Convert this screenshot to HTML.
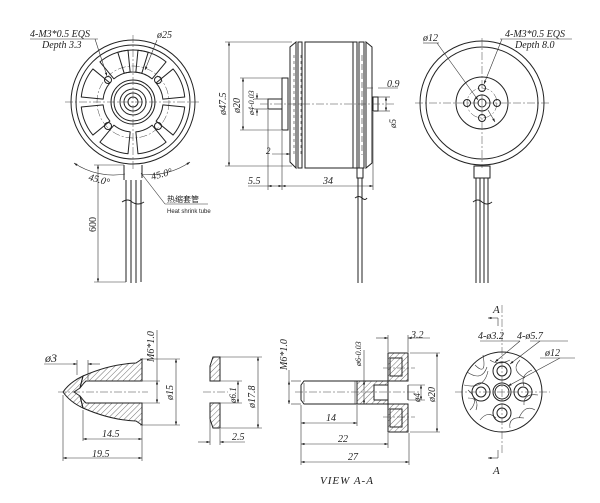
<!DOCTYPE html>
<html><head><meta charset="utf-8"><style>
html,body{margin:0;padding:0;background:#fff;}
svg{display:block}
text{font-family:"Liberation Serif","Noto Sans CJK SC",serif;font-style:italic;font-size:10px;fill:#222}
.s{fill:none;stroke:#222;stroke-width:1}
.t{fill:none;stroke:#333;stroke-width:0.6}
.c{fill:none;stroke:#444;stroke-width:0.5;stroke-dasharray:8 2 2 2}
.h{fill:url(#hat);stroke:#222;stroke-width:1}
</style></head><body>
<svg width="600" height="503" viewBox="0 0 600 503" xmlns="http://www.w3.org/2000/svg">
<defs>
<pattern id="hat" width="4" height="4" patternUnits="userSpaceOnUse" patternTransform="rotate(45)"><line x1="0" y1="0" x2="0" y2="4" stroke="#333" stroke-width="0.7"/></pattern>
<marker id="a" markerWidth="6" markerHeight="4" refX="6" refY="2" orient="auto-start-reverse"><path d="M0,0 L6,2 L0,4z" fill="#222"/></marker>
</defs>

<!-- ========== TOP LEFT VIEW ========== -->
<g>
<circle class="s" cx="133" cy="102" r="62" stroke-width="1.4"/>
<circle class="s" cx="133" cy="102" r="57"/>
<circle class="c" cx="133" cy="102" r="36"/>
<g id="win">
<path class="s" d="M124.2,73.3 L117.8,52.3 A52,52 0 0 1 148.2,52.3 L141.8,73.3 A30,30 0 0 0 124.2,73.3 Z" stroke-linejoin="round"/>
</g>
<use href="#win" transform="rotate(22.5 133 102)"/>
<use href="#win" transform="rotate(67.5 133 102)"/>
<use href="#win" transform="rotate(112.5 133 102)"/>
<use href="#win" transform="rotate(157.5 133 102)"/>
<use href="#win" transform="rotate(202.5 133 102)"/>
<use href="#win" transform="rotate(247.5 133 102)"/>
<use href="#win" transform="rotate(292.5 133 102)"/>
<use href="#win" transform="rotate(337.5 133 102)"/>
<circle class="s" cx="133" cy="102" r="22" stroke-width="1.6" fill="#fff"/>
<circle class="s" cx="133" cy="102" r="19"/>
<circle class="s" cx="133" cy="102" r="13"/>
<circle class="s" cx="133" cy="102" r="9"/>
<circle class="s" cx="133" cy="102" r="5"/>
<circle class="s" cx="108" cy="80" r="3.5"/><circle class="s" cx="158" cy="80" r="3.5"/>
<circle class="s" cx="108" cy="126" r="3.5"/><circle class="s" cx="158" cy="126" r="3.5"/>
<line class="c" x1="65" y1="102" x2="201" y2="102"/>
<line class="c" x1="133" y1="35" x2="133" y2="170"/>
<!-- labels -->
<text x="30" y="37">4-M3*0.5 EQS</text>
<line class="t" x1="30" y1="39" x2="98" y2="39"/>
<text x="42" y="48">Depth 3.3</text>
<line class="t" x1="95" y1="39" x2="107" y2="76" marker-end="url(#a)"/>
<text x="157" y="38">ø25</text>
<line class="t" x1="157" y1="40" x2="145" y2="70" marker-end="url(#a)"/>
<!-- angle -->
<path class="t" d="M74,163 A70,70 0 0 0 125,174" marker-start="url(#a)"/>
<path class="t" d="M141,174 A70,70 0 0 0 190,162" marker-end="url(#a)"/>
<text x="88" y="180" transform="rotate(15 88 180)">45.0°</text>
<text x="152" y="180" transform="rotate(-15 152 180)">45.0°</text>
<!-- cable -->
<path class="s" d="M124,165 L124,180 M142,165 L142,178"/>
<path class="s" d="M126,180 L126,282 M131,180 L131,283 M136,180 L136,283 M141,180 L141,282"/>
<path class="s" d="M122,202 q6,-4 10,0 q6,4 12,0"/>
<line class="t" x1="98" y1="165" x2="98" y2="282" marker-start="url(#a)" marker-end="url(#a)"/>
<line class="t" x1="94" y1="165" x2="124" y2="165"/><line class="t" x1="94" y1="282" x2="126" y2="282"/>
<text x="96" y="232" transform="rotate(-90 96 232)" style="font-style:normal">600</text>
<line class="t" x1="141" y1="173" x2="165" y2="204"/><line class="t" x1="165" y1="204" x2="208" y2="204"/>
<text x="167" y="202" style="font-style:normal;font-size:8px;font-family:'Noto Sans CJK SC',sans-serif">热缩套管</text>
<text x="167" y="213" style="font-style:normal;font-size:6px;font-family:'Liberation Sans',sans-serif">Heat shrink tube</text>
</g>

<!-- ========== SIDE VIEW ========== -->
<g>
<path class="s" d="M296,42 L290,47 L290,162 L296,168 Z"/>
<rect class="s" x="298" y="42" width="4" height="126"/>
<rect class="s" x="305" y="42" width="48" height="126"/>
<rect class="s" x="353" y="42" width="4" height="126"/>
<rect class="s" x="359" y="42" width="5" height="126"/>
<path class="s" d="M366,42 L372,47 L372,163 L366,168 Z"/>
<g class="t">
<line x1="294" y1="55" x2="294" y2="155" stroke-dasharray="3 3"/>
<line x1="301" y1="55" x2="301" y2="155" stroke-dasharray="3 3"/>
<line x1="362" y1="55" x2="362" y2="155" stroke-dasharray="6 3"/>
</g>
<rect class="s" x="282" y="78" width="6" height="52"/>
<rect class="s" x="268" y="99" width="14" height="10"/>
<rect class="s" x="373" y="97" width="5" height="14"/>
<line class="c" x1="260" y1="104" x2="395" y2="104"/>
<!-- dims -->
<g class="t">
<line x1="225" y1="42" x2="292" y2="42"/><line x1="225" y1="166" x2="292" y2="166"/>
<line x1="229" y1="42" x2="229" y2="166" marker-start="url(#a)" marker-end="url(#a)"/>
<line x1="240" y1="78" x2="282" y2="78"/><line x1="240" y1="130" x2="282" y2="130"/>
<line x1="243" y1="78" x2="243" y2="130" marker-start="url(#a)" marker-end="url(#a)"/>
<line x1="254" y1="99" x2="268" y2="99"/><line x1="254" y1="109" x2="268" y2="109"/>
<line x1="257" y1="93" x2="257" y2="99" marker-end="url(#a)"/><line x1="257" y1="116" x2="257" y2="109" marker-end="url(#a)"/>
<line x1="268" y1="110" x2="268" y2="190"/><line x1="282" y1="131" x2="282" y2="190"/><line x1="373" y1="112" x2="373" y2="190"/>
<line x1="248" y1="186" x2="268" y2="186"/>
<line x1="268" y1="186" x2="282" y2="186" marker-start="url(#a)" marker-end="url(#a)"/>
<line x1="282" y1="186" x2="373" y2="186" marker-start="url(#a)" marker-end="url(#a)"/>
<line x1="272" y1="154" x2="290" y2="154" marker-end="url(#a)"/>
<line x1="378" y1="88" x2="398" y2="88"/><line x1="373" y1="88" x2="367" y2="88"/>
<line x1="378" y1="97" x2="390" y2="97"/><line x1="378" y1="111" x2="390" y2="111"/>
<line x1="386" y1="97" x2="386" y2="111" marker-start="url(#a)" marker-end="url(#a)"/>
</g>
<text x="226" y="115" transform="rotate(-90 226 115)">ø47.5</text>
<text x="240" y="113" transform="rotate(-90 240 113)">ø20</text>
<text x="254" y="115" transform="rotate(-90 254 115)" style="font-size:8px">ø4-0.03</text>
<text x="266" y="154" style="font-size:9px">2</text>
<text x="248" y="184">5.5</text>
<text x="323" y="184">34</text>
<text x="387" y="87">0.9</text>
<text x="396" y="128" transform="rotate(-90 396 128)" style="font-size:9px">ø5</text>
<!-- cable -->
<rect class="s" x="357" y="168" width="6" height="10"/>
<path class="s" d="M358,178 L358,283 M362,178 L362,283"/>
<path class="s" d="M355,198 q4,-3 7,0 q3,3 5,0"/>
</g>

<!-- ========== RIGHT VIEW ========== -->
<g>
<circle class="s" cx="482" cy="103" r="62" stroke-width="1.4"/>
<circle class="s" cx="482" cy="103" r="56"/>
<circle class="s" cx="482" cy="103" r="26" stroke-width="1.5"/>
<circle class="c" cx="482" cy="103" r="15"/>
<circle class="s" cx="482" cy="103" r="8" stroke-width="1.5"/>
<circle class="s" cx="482" cy="103" r="4"/>
<circle class="s" cx="482" cy="88" r="3.5"/><circle class="s" cx="482" cy="118" r="3.5"/>
<circle class="s" cx="467" cy="103" r="3.5"/><circle class="s" cx="497" cy="103" r="3.5"/>
<line class="c" x1="415" y1="103" x2="550" y2="103"/>
<line class="c" x1="482" y1="38" x2="482" y2="168"/>
<text x="423" y="41">ø12</text>
<line class="t" x1="423" y1="43" x2="439" y2="43"/>
<line class="t" x1="437" y1="43" x2="478" y2="100" marker-end="url(#a)"/>
<text x="505" y="37">4-M3*0.5 EQS</text>
<line class="t" x1="500" y1="39" x2="572" y2="39"/>
<text x="515" y="48">Depth 8.0</text>
<line class="t" x1="502" y1="39" x2="484" y2="84" marker-end="url(#a)"/>
<line class="t" x1="488" y1="110" x2="495" y2="122" marker-end="url(#a)"/>
<rect class="s" x="474" y="166" width="16" height="12"/>
<path class="s" d="M476,178 L476,283 M480,178 L480,283 M484,178 L484,283 M488,178 L488,283"/>
<path class="s" d="M473,202 q5,-4 9,0 q5,4 10,0"/>
</g>

<!-- ========== BULLET NUT ========== -->
<g>
<path class="h" d="M83,376 Q110,364 136,363 L142,359 L142,381 L86,381 L84,383 L80,388 Z"/>
<path class="h" d="M83,408 Q110,420 136,421 L142,425 L142,403 L86,403 L84,401 L80,396 Z"/>
<path class="h" d="M83,376 L80,388 L74,392 L80,396 L83,408 Q70,402 63,392 Q70,382 83,376 Z"/>
<path class="s" d="M86,381 L142,381 M86,403 L142,403"/>
<line class="c" x1="58" y1="392" x2="148" y2="392"/>
<g class="t">
<line x1="140" y1="359" x2="180" y2="359"/><line x1="140" y1="425" x2="180" y2="425"/>
<line x1="176" y1="359" x2="176" y2="425" marker-start="url(#a)" marker-end="url(#a)"/>
<line x1="157" y1="330" x2="157" y2="381"/>
<line x1="157" y1="381" x2="157" y2="403" marker-start="url(#a)" marker-end="url(#a)"/>
<line x1="140" y1="381" x2="160" y2="381"/><line x1="140" y1="403" x2="160" y2="403"/>
<line x1="44" y1="364" x2="77" y2="364" marker-end="url(#a)"/><line x1="100" y1="364" x2="88" y2="364" marker-end="url(#a)"/>
<line x1="77" y1="360" x2="77" y2="375"/><line x1="88" y1="360" x2="88" y2="380"/>
<line x1="83" y1="410" x2="83" y2="441"/><line x1="63" y1="395" x2="63" y2="461"/><line x1="142" y1="425" x2="142" y2="461"/>
<line x1="83" y1="439" x2="142" y2="439" marker-start="url(#a)" marker-end="url(#a)"/>
<line x1="63" y1="458" x2="142" y2="458" marker-start="url(#a)" marker-end="url(#a)"/>
</g>
<text x="45" y="362" style="font-size:12px">ø3</text>
<text x="154" y="362" transform="rotate(-90 154 362)">M6*1.0</text>
<text x="173" y="400" transform="rotate(-90 173 400)">ø15</text>
<text x="102" y="437">14.5</text>
<text x="92" y="457">19.5</text>
</g>

<!-- ========== WASHER ========== -->
<g>
<path class="h" d="M213,357 L220,357 L220,381 L210,381 L210,366 Z"/>
<path class="h" d="M213,428 L220,428 L220,403 L210,403 L210,419 Z"/>
<line class="c" x1="203" y1="392" x2="228" y2="392"/>
<g class="t">
<line x1="220" y1="357" x2="262" y2="357"/><line x1="220" y1="428" x2="262" y2="428"/>
<line x1="258" y1="357" x2="258" y2="428" marker-start="url(#a)" marker-end="url(#a)"/>
<line x1="220" y1="381" x2="242" y2="381"/><line x1="220" y1="403" x2="242" y2="403"/>
<line x1="238" y1="381" x2="238" y2="403" marker-start="url(#a)" marker-end="url(#a)"/>
<line x1="210" y1="420" x2="210" y2="445"/><line x1="220" y1="429" x2="220" y2="445"/>
<line x1="198" y1="442" x2="210" y2="442" marker-end="url(#a)"/><line x1="245" y1="442" x2="220" y2="442" marker-end="url(#a)"/>
</g>
<text x="236" y="403" transform="rotate(-90 236 403)" style="font-size:9px">ø6.1</text>
<text x="255" y="408" transform="rotate(-90 255 408)">ø17.8</text>
<text x="232" y="440">2.5</text>
</g>

<!-- ========== BOLT ========== -->
<g>
<path class="s" d="M304,381 L357,381 L357,404 L304,404 L301,400 L301,385 Z"/>
<line class="t" x1="304" y1="383" x2="304" y2="402"/><line class="t" x1="355" y1="381" x2="355" y2="404"/>
<path class="h" d="M357,381 L388,381 L388,385 L374,385 L374,400 L388,400 L388,404 L357,404 Z"/>
<rect class="s" x="374" y="385" width="14" height="15"/>
<path class="h" d="M388,353 L408,353 L408,381 L388,381 Z"/>
<path class="h" d="M388,404 L408,404 L408,432 L388,432 Z"/>
<rect class="s" x="390" y="358" width="12" height="18" fill="#fff"/>
<rect class="s" x="390" y="409" width="12" height="18" fill="#fff"/>
<path class="s" d="M408,385 L408,400"/>
<line class="c" x1="295" y1="392" x2="420" y2="392"/>
<line class="c" x1="383" y1="368" x2="415" y2="368"/><line class="c" x1="383" y1="417" x2="415" y2="417"/>
<g class="t">
<line x1="291" y1="381" x2="301" y2="381"/><line x1="291" y1="404" x2="301" y2="404"/>
<line x1="289" y1="370" x2="289" y2="381"/>
<line x1="289" y1="381" x2="289" y2="404" marker-start="url(#a)" marker-end="url(#a)"/>
<line x1="364" y1="350" x2="364" y2="381"/>
<line x1="364" y1="381" x2="364" y2="404" marker-start="url(#a)" marker-end="url(#a)"/>
<line x1="301" y1="405" x2="301" y2="465"/><line x1="357" y1="405" x2="357" y2="426"/>
<line x1="388" y1="433" x2="388" y2="448"/><line x1="409" y1="433" x2="409" y2="465"/>
<line x1="388" y1="335" x2="388" y2="352"/><line x1="408" y1="335" x2="408" y2="352"/>
<line x1="376" y1="338" x2="388" y2="338" marker-end="url(#a)"/><line x1="430" y1="338" x2="408" y2="338" marker-end="url(#a)"/>
<line x1="301" y1="423" x2="357" y2="423" marker-start="url(#a)" marker-end="url(#a)"/>
<line x1="301" y1="444" x2="388" y2="444" marker-start="url(#a)" marker-end="url(#a)"/>
<line x1="301" y1="462" x2="409" y2="462" marker-start="url(#a)" marker-end="url(#a)"/>
<line x1="408" y1="385" x2="425" y2="385"/><line x1="408" y1="400" x2="425" y2="400"/>
<line x1="421" y1="385" x2="421" y2="400" marker-start="url(#a)" marker-end="url(#a)"/>
<line x1="410" y1="353" x2="440" y2="353"/><line x1="410" y1="432" x2="440" y2="432"/>
<line x1="437" y1="353" x2="437" y2="432" marker-start="url(#a)" marker-end="url(#a)"/>
</g>
<text x="287" y="370" transform="rotate(-90 287 370)">M6*1.0</text>
<text x="361" y="366" transform="rotate(-90 361 366)" style="font-size:8px">ø6-0.03</text>
<text x="411" y="338">3.2</text>
<text x="326" y="421">14</text>
<text x="338" y="442">22</text>
<text x="348" y="460">27</text>
<text x="420" y="402" transform="rotate(-90 420 402)" style="font-size:9px">ø4</text>
<text x="435" y="402" transform="rotate(-90 435 402)">ø20</text>
<text x="320" y="484" style="font-size:11px;letter-spacing:1px">VIEW A-A</text>
</g>

<!-- ========== SECTION DISK ========== -->
<g>
<circle class="s" cx="502" cy="392" r="40" stroke-width="1.2"/>
<g class="t" stroke-width="0.5">
<path d="M467,372 q15,10 20,-5"/><path d="M464,385 q20,5 24,-14"/><path d="M470,410 q10,-10 -2,-20"/>
<path d="M520,360 q-10,10 5,18"/><path d="M532,370 q-12,5 -8,16"/><path d="M538,395 q-15,-2 -14,10"/>
<path d="M480,420 q8,-10 16,-2"/><path d="M510,428 q-2,-12 14,-10"/><path d="M490,360 q8,6 20,0"/>
<path d="M475,365 q12,12 8,-10"/><path d="M535,410 q-10,-6 -16,8"/><path d="M468,398 q12,0 8,12"/>
</g>
<circle class="s" cx="502" cy="392" r="9" fill="#fff"/><circle class="s" cx="502" cy="392" r="7"/>
<circle class="s" cx="502" cy="371" r="9" fill="#fff"/><circle class="s" cx="502" cy="371" r="5"/>
<circle class="s" cx="502" cy="413" r="9" fill="#fff"/><circle class="s" cx="502" cy="413" r="5"/>
<circle class="s" cx="481" cy="392" r="9" fill="#fff"/><circle class="s" cx="481" cy="392" r="5"/>
<circle class="s" cx="523" cy="392" r="9" fill="#fff"/><circle class="s" cx="523" cy="392" r="5"/>
<line class="c" x1="455" y1="392" x2="550" y2="392"/>
<line class="c" x1="502" y1="305" x2="502" y2="455"/>
<g class="t">
<line x1="480" y1="341" x2="520" y2="341"/><line x1="530" y1="341" x2="568" y2="341"/>
<line x1="520" y1="341" x2="495" y2="362" marker-end="url(#a)"/>
<line x1="540" y1="341" x2="510" y2="364" marker-end="url(#a)"/>
<line x1="560" y1="358" x2="508" y2="386" marker-end="url(#a)"/>
<line x1="540" y1="358" x2="575" y2="358"/>
<line x1="498" y1="318" x2="498" y2="326"/><line x1="488" y1="318" x2="498" y2="318" marker-start="url(#a)"/>
<line x1="498" y1="450" x2="498" y2="458"/><line x1="488" y1="458" x2="498" y2="458" marker-start="url(#a)"/>
</g>
<text x="493" y="313" style="font-size:11px">A</text>
<text x="493" y="474" style="font-size:11px">A</text>
<text x="478" y="339">4-ø3.2</text>
<text x="517" y="339">4-ø5.7</text>
<text x="545" y="356">ø12</text>
</g>
</svg>
</body></html>
